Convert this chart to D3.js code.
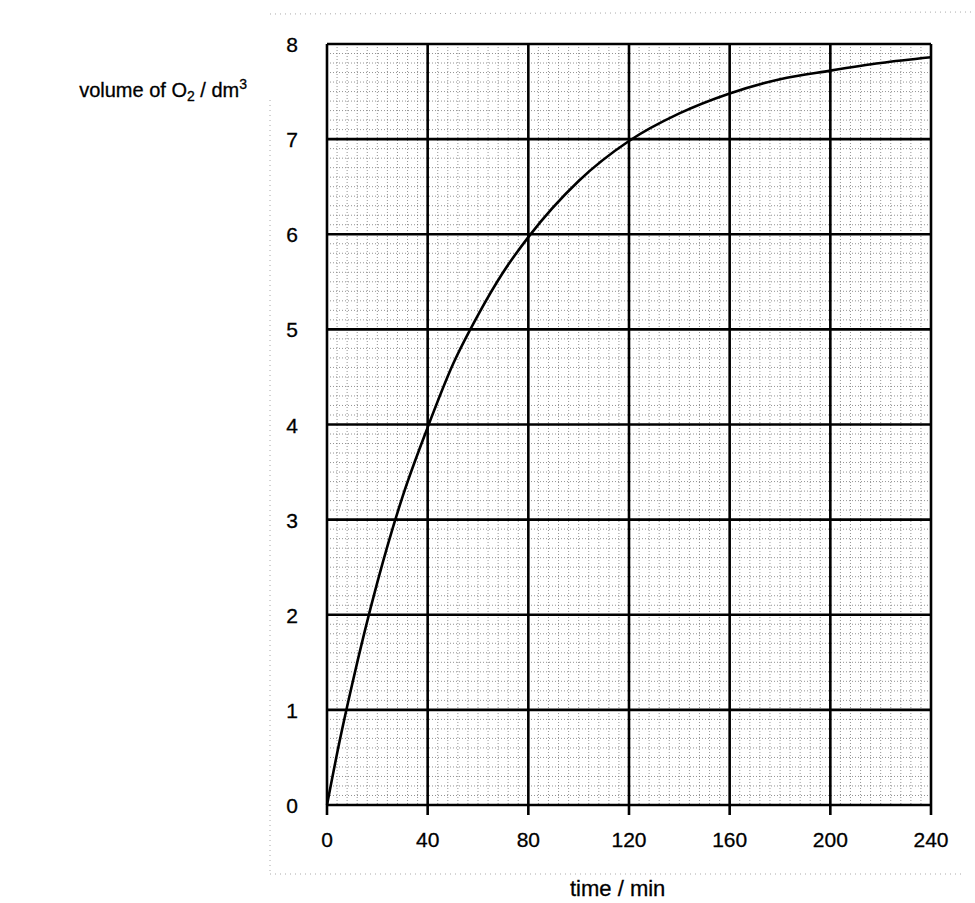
<!doctype html>
<html>
<head>
<meta charset="utf-8">
<script src="https://cdn.jsdelivr.net/npm/d3@7"></script>
<style>
  body { margin: 0; background: #fff; }
  svg { display: block; font-family: "Liberation Sans", Arial, sans-serif; }
</style>
</head>
<body>
<script>
// Readings (time in min, volume of O2 in dm3).
const time = [0, 5, 10, 20, 30, 40, 50, 60, 70, 80, 100, 120, 140, 160, 180, 200, 220, 240];
const volume = [0, 0.67, 1.27, 2.34, 3.24, 3.97, 4.63, 5.15, 5.6, 5.97, 6.56, 6.98, 7.27, 7.48, 7.63, 7.72, 7.8, 7.86];
const xTicks = [0, 40, 80, 120, 160, 200, 240];
const yTicks = [0, 1, 2, 3, 4, 5, 6, 7, 8];

const width = 975;
const height = 903;

const x = d3.scaleLinear([0, 240], [327, 931]);
const y = d3.scaleLinear([0, 8], [805, 44]);

const svg = d3.create("svg")
    .attr("viewBox", [0, 0, width, height])
    .attr("width", width)
    .attr("height", height);

svg.append("rect").attr("width", width).attr("height", height).attr("fill", "#fff");

// faint dotted edges left over from the scan
svg.append("g")
    .attr("stroke", "#aaa")
    .attr("stroke-width", 1)
    .attr("stroke-dasharray", "1,4")
  .call((g) => g.append("line").attr("x1", 270).attr("x2", 270).attr("y1", 100).attr("y2", 872))
  .call((g) => g.append("line").attr("x1", 270).attr("x2", 965).attr("y1", 874).attr("y2", 874))
  .call((g) => g.append("line").attr("x1", 270).attr("x2", 975).attr("y1", 14).attr("y2", 12));

// minor grid of the graph paper
const minorX = d3.range(0, 240.01, 4);
const minorY = d3.range(0, 8.001, 0.1);
svg.append("g")
    .attr("stroke", "#777")
    .attr("stroke-width", 0.8)
    .attr("stroke-dasharray", "1,2")
  .call((g) => g.selectAll(".mx").data(minorX).join("line")
      .attr("x1", (d) => x(d)).attr("x2", (d) => x(d))
      .attr("y1", y(8)).attr("y2", y(0)))
  .call((g) => g.selectAll(".my").data(minorY).join("line")
      .attr("x1", x(0)).attr("x2", x(240))
      .attr("y1", (d) => y(d)).attr("y2", (d) => y(d)));

// major grid lines
svg.append("g")
    .attr("stroke", "#000")
    .attr("stroke-width", 2.6)
  .call((g) => g.selectAll(".vx").data(xTicks).join("line")
      .attr("x1", (d) => x(d)).attr("x2", (d) => x(d))
      .attr("y1", y(8)).attr("y2", y(0) + 10))
  .call((g) => g.selectAll(".hy").data(yTicks).join("line")
      .attr("x1", x(0)).attr("x2", x(240))
      .attr("y1", (d) => y(d)).attr("y2", (d) => y(d)));

// the curve
const line = d3.line()
    .x((d, i) => x(time[i]))
    .y((d) => y(d))
    .curve(d3.curveMonotoneX);

svg.append("path")
    .attr("fill", "none")
    .attr("stroke", "#000")
    .attr("stroke-width", 2.6)
    .attr("d", line(volume));

// tick labels
svg.append("g")
    .attr("font-size", 21)
    .attr("text-anchor", "middle")
    .attr("fill", "#000")
    .attr("stroke", "#000")
    .attr("stroke-width", 0.3)
  .call((g) => g.selectAll(".tx").data(xTicks).join("text")
      .attr("x", (d) => x(d)).attr("y", 847)
      .text((d) => d))
  .call((g) => g.selectAll(".ty").data(yTicks).join("text")
      .attr("x", 292).attr("y", (d) => y(d) + 8)
      .text((d) => d));

// axis titles
svg.append("text")
    .attr("x", 570).attr("y", 896)
    .attr("font-size", 22)
    .attr("stroke", "#000")
    .attr("stroke-width", 0.3)
    .text("time / min");

const yt = svg.append("text")
    .attr("x", 247).attr("y", 97)
    .attr("text-anchor", "end")
    .attr("font-size", 20)
    .attr("stroke", "#000")
    .attr("stroke-width", 0.3);
yt.append("tspan").text("volume of O");
yt.append("tspan").attr("font-size", 14).attr("dy", 4).text("2");
yt.append("tspan").attr("dy", -4).text(" / dm");
yt.append("tspan").attr("font-size", 14).attr("dy", -8).text("3");

document.body.appendChild(svg.node());
</script>
</body>
</html>
